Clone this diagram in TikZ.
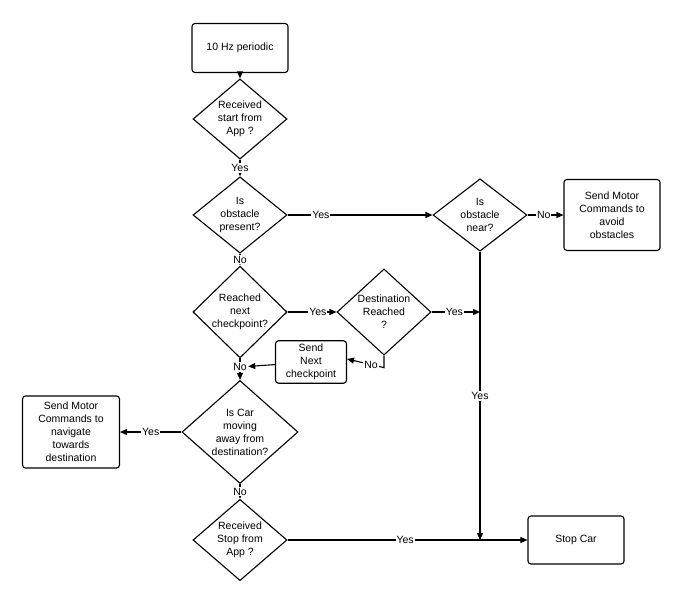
\documentclass[tikz,border=0pt]{standalone}
\usepackage{fontspec}
\setmainfont{Liberation Sans}
\usetikzlibrary{shapes.geometric,arrows.meta}

\begin{document}
\begin{tikzpicture}[x=1pt, y=-1pt,
    font=\fontsize{10.5}{13}\selectfont,
    line width=1.1pt,
    >={Triangle[length=7pt,width=6pt]},
    box/.style={draw, rounded corners=3pt, align=center, minimum width=96pt, minimum height=#1},
    box/.default=49pt,
    dia/.style={draw, diamond, align=center, inner sep=0pt, minimum width=94pt, minimum height=70pt},
    lbl/.style={fill=white, inner sep=1pt}
  ]
  \useasboundingbox (0,0) rectangle (684,600);

  % boxes
  \node[box] (tick) at (240,48) {10 Hz periodic};
  \node[box=71pt] (avoid) at (612,215) {Send Motor\\Commands to\\avoid\\obstacles};
  \node[box=40pt, minimum width=71pt] (next) at (311,362) {Send\\Next\\checkpoint};
  \node[box=72pt, minimum width=97pt] (nav) at (71,432) {Send Motor\\Commands to\\navigate\\towards\\destination};
  \node[box=48pt] (stop) at (576,540) {Stop Car};

  % decisions
  \node[dia] (recv) at (240,119) {Received\\start from\\App ?};
  \node[dia] (obst) at (240,215) {Is\\obstacle\\present?};
  \node[dia] (near) at (480,215) {Is\\obstacle\\near?};
  \node[dia] (chk) at (240,312) {Reached\\next\\checkpoint?};
  \node[dia] (dest) at (384,312) {Destination\\Reached\\?};
  \node[dia, minimum width=116pt, minimum height=94pt] (car) at (240,432) {Is Car\\moving\\away from\\destination?};
  \node[dia] (rstop) at (240,540) {Received\\Stop from\\App ?};

  \coordinate (jdest) at (480,312);
  \coordinate (jstop) at (480,540);

  % connectors
  \draw[->] (tick) -- (recv);
  \draw[->] (recv) -- node[lbl] {Yes} (obst);
  \draw[->] (obst) -- node[lbl, pos=0.23] {Yes} (near);
  \draw[->] (near) -- node[lbl, pos=0.45] {No} (avoid);
  \draw[->] (obst) -- node[lbl] {No} (chk);
  \draw[->] (chk) -- node[lbl, pos=0.62] {Yes} (dest);
  \draw[->] (dest) -- node[lbl, pos=0.47] {Yes} (jdest);
  \draw[->] (dest.south) |- ++(0,12) -- node[lbl, pos=0.35] {No} (next.east |- 0,359);
  \draw[->] (chk) -- node[lbl, pos=0.4] (nochk) {No} (car);
  \draw[->] (next) -- (nochk);
  \draw[->] (car) -- node[lbl] {Yes} (nav);
  \draw[->] (car) -- node[lbl] {No} (rstop);
  \draw[->] (near) -- node[lbl] {Yes} (jstop);
  \draw[->] (rstop) -- node[lbl, pos=0.49] {Yes} (stop);
\end{tikzpicture}
\end{document}
